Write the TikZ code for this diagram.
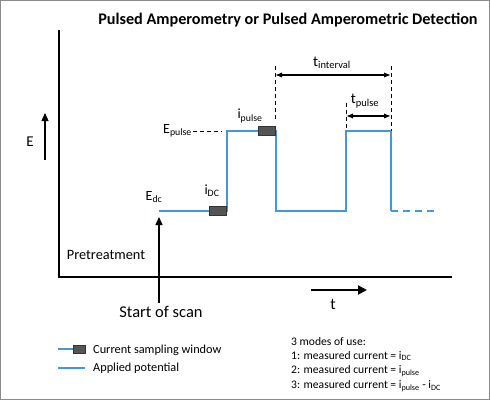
\documentclass[tikz,border=0pt]{standalone}
\usepackage{fontspec}
\setmainfont{Carlito}
\usetikzlibrary{arrows.meta}
\definecolor{signalblue}{RGB}{72,150,212}
\definecolor{windowgray}{RGB}{85,85,85}
\tikzset{
  signal/.style={signalblue, line width=1.3pt},
  window/.style={draw=black!80, fill=windowgray, minimum width=17pt, minimum height=9pt, inner sep=0pt},
  guide/.style={dash pattern=on 4pt off 3pt, line width=1pt},
  span/.style={{Latex[length=7pt]}-{Latex[length=7pt]}, line width=1.2pt},
  lbl/.style={font=\fontsize{14}{16}\selectfont, inner sep=1pt},
  legend/.style={font=\fontsize{12.3}{14}\selectfont, inner sep=0pt, anchor=west},
}
\begin{document}
\begin{tikzpicture}[x=1pt,y=-1pt]
    \useasboundingbox (0,0) rectangle (490,400);
    \draw [black!45, line width=1pt] (0.5,0.5) rectangle (489.5,399.5);

    % Titre
    \node [font=\bfseries\fontsize{16.2}{18}\selectfont] (title) at (288,20) {Pulsed Amperometry or Pulsed Amperometric Detection};

    % Axes
    \coordinate (ytop) at (59,30);
    \coordinate (origin) at (59,277);
    \coordinate (xend) at (452,277);
    \draw [line width=1.3pt] (ytop) -- (origin) -- (xend);

    % Axe E
    \coordinate (ebot) at (45,160);
    \coordinate (etop) at (45,113);
    \draw [line width=1.3pt, -{Triangle[length=8pt,width=7pt]}] (ebot) -- (etop);
    \node [lbl, font=\fontsize{15}{17}\selectfont] (elabel) at (30,142) {E};

    % Potentiel applique
    \coordinate (s0) at (159,211);
    \coordinate (s1) at (227,211);
    \coordinate (s2) at (227,131);
    \coordinate (s3) at (276,131);
    \coordinate (s4) at (276,211);
    \coordinate (s5) at (346,211);
    \coordinate (s6) at (346,131);
    \coordinate (s7) at (391,131);
    \coordinate (s8) at (391,211);
    \coordinate (s9) at (437,211);
    \draw [signal] (s0) -- (s1) -- (s2) -- (s3) -- (s4) -- (s5) -- (s6) -- (s7) -- (s8);
    \draw [signal, dash pattern=on 7pt off 5pt] (s8) -- (s9);

    % Fenetres d'echantillonnage
    \node [window] (idcwin) at (217.5,211) {};
    \node [window] (ipwin) at (266.5,131) {};

    % Etiquettes
    \node [lbl] (edc) at (154,197) {E\textsubscript{dc}};
    \node [lbl] (idc) at (212,191) {i\textsubscript{DC}};
    \node [lbl] (ipulse) at (250,116) {i\textsubscript{pulse}};
    \node [lbl, anchor=east] (epulse) at (193,131) {E\textsubscript{pulse}};
    \coordinate (epend) at (222,131);
    \draw [guide] (epulse.east) -- (epend);

    % Reperes temporels
    \coordinate (g1top) at (275,66);
    \coordinate (g1bot) at (275,121);
    \coordinate (g2top) at (391,66);
    \coordinate (g3top) at (346,103);
    \draw [guide] (g1top) -- (g1bot);
    \draw [guide] (g2top) -- (s7);
    \draw [guide] (g3top) -- (s6);
    \coordinate (ia) at (275,75);
    \coordinate (ib) at (391,75);
    \draw [span] (ia) -- (ib);
    \node [lbl, font=\fontsize{15}{17}\selectfont] (tint) at (332,63) {t\textsubscript{interval}};
    \coordinate (pa) at (346,116);
    \coordinate (pb) at (391,116);
    \draw [span] (pa) -- (pb);
    \node [lbl, font=\fontsize{15}{17}\selectfont] (tpulse) at (365,101) {t\textsubscript{pulse}};

    % Debut du balayage
    \node [lbl, font=\fontsize{14.3}{16}\selectfont] (pretreat) at (106,255) {Pretreatment};
    \coordinate (sstart) at (159,303);
    \coordinate (sstop) at (159,217);
    \draw [line width=1.3pt, -{Triangle[length=8pt,width=7pt]}] (sstart) -- (sstop);
    \node [lbl, font=\fontsize{16.5}{18}\selectfont] (startscan) at (161,312) {Start of scan};

    % Axe t
    \coordinate (ta) at (311,290);
    \coordinate (tb) at (367,290);
    \draw [line width=2pt, -{Triangle[length=9pt,width=9pt]}] (ta) -- (tb);
    \node [lbl, font=\fontsize{16}{18}\selectfont] (tlabel) at (333,304) {t};

    % Legende
    \coordinate (la) at (58,349);
    \coordinate (lb) at (74,349);
    \draw [signal, line width=1.4pt] (la) -- (lb);
    \node [window, minimum width=12pt, minimum height=8pt] (legwin) at (79.5,349) {};
    \node [legend] (legwintext) at (93,350) {Current sampling window};
    \coordinate (lc) at (58,368);
    \coordinate (ld) at (85,368);
    \draw [signal, line width=1.4pt] (lc) -- (ld);
    \node [legend] (legpot) at (93,368) {Applied potential};

    % Modes
    \node [legend, font=\fontsize{11.6}{13}\selectfont] (mode0) at (291,342) {3 modes of use:};
    \node [legend, font=\fontsize{11.6}{13}\selectfont] (mode1) at (291,356) {1: measured current = i\textsubscript{DC}};
    \node [legend, font=\fontsize{11.6}{13}\selectfont] (mode2) at (291,371) {2: measured current = i\textsubscript{pulse}};
    \node [legend, font=\fontsize{11.6}{13}\selectfont] (mode3) at (291,386) {3: measured current = i\textsubscript{pulse} - i\textsubscript{DC}};
\end{tikzpicture}
\end{document}
